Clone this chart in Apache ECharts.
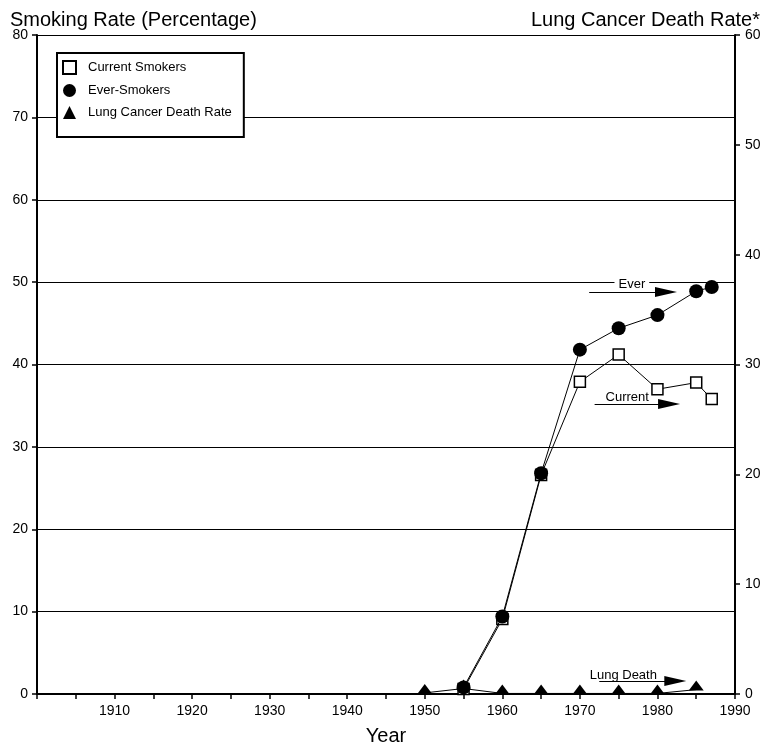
<!DOCTYPE html>
<html>
<head>
<meta charset="utf-8">
<script src="https://cdn.jsdelivr.net/npm/echarts@6/dist/echarts.min.js"></script>
<style>
  html, body { margin: 0; padding: 0; background: #fff; }
  #chart { width: 766px; height: 746px; }
</style>
</head>
<body>
<div id="chart"></div>
<script>
// Smoking prevalence (left axis, %) and lung cancer death rate (right axis)
var seriesNames = ['Current Smokers', 'Ever-Smokers', 'Lung Cancer Death Rate'];

var currentYears = [1955, 1960, 1965, 1970, 1975, 1980, 1985, 1987];
var currentRate  = [0.6, 9.1, 26.6, 37.9, 41.2, 37.0, 37.8, 35.8];

var everYears = [1955, 1960, 1965, 1970, 1975, 1980, 1985, 1987];
var everRate  = [0.8, 9.4, 26.8, 41.8, 44.4, 46.0, 48.9, 49.4];

var lungYears = [1950, 1955, 1960, 1965, 1970, 1975, 1980, 1985];
var lungRate  = [0.1, 0.5, 0.05, 0.05, 0.05, 0.05, 0.05, 0.4];

var yearMin = 1900, yearMax = 1990, yearStep = 10;
var smokeMax = 80, smokeStep = 10;
var deathMax = 60, deathStep = 10;

var FONT = '"Liberation Sans", Arial, Helvetica, sans-serif';

function pairs(xs, ys) {
  return xs.map(function (x, i) { return [x, ys[i]]; });
}

// Arrow annotation: a short line ending in a filled arrowhead
function arrow(x0, x1, y) {
  return [{ coord: [x0, y], symbol: 'none' }, { coord: [x1, y], symbol: 'triangle' }];
}
function note(text, x, y, bg) {
  return {
    coord: [x, y],
    symbol: 'rect',
    symbolSize: 1,
    itemStyle: { color: 'rgba(0,0,0,0)' },
    label: {
      show: true, position: 'inside', formatter: text,
      color: '#000', fontSize: 13, fontFamily: FONT,
      backgroundColor: bg || 'transparent', padding: [1, 4]
    }
  };
}
var arrowStyle = {
  silent: true, animation: false,
  symbolSize: [10, 22],
  lineStyle: { color: '#000', width: 1, type: 'solid' },
  label: { show: false }
};

var chart = echarts.init(document.getElementById('chart'), null, { renderer: 'canvas' });

chart.setOption({
  animation: false,
  backgroundColor: '#fff',
  textStyle: { fontFamily: FONT, color: '#000' },
  title: [
    { text: 'Smoking Rate (Percentage)', left: 10, top: 10, padding: 0,
      textStyle: { fontSize: 20, fontWeight: 'normal', color: '#000', fontFamily: FONT } },
    { text: 'Lung Cancer Death Rate*', right: 6, top: 10, padding: 0,
      textStyle: { fontSize: 20, fontWeight: 'normal', color: '#000', fontFamily: FONT } }
  ],
  legend: {
    orient: 'vertical',
    left: 57, top: 53,
    padding: [7, 12, 18, 5],
    itemWidth: 13, itemHeight: 13,
    itemGap: 9,
    borderColor: '#000', borderWidth: 2,
    backgroundColor: '#fff',
    textStyle: { fontSize: 13, color: '#000', fontFamily: FONT, padding: [0, 0, 0, 7] },
    data: [
      { name: seriesNames[0], icon: 'rect' },
      { name: seriesNames[1], icon: 'circle' },
      { name: seriesNames[2], icon: 'triangle' }
    ],
    selectedMode: false
  },
  grid: { left: 37, right: 31, top: 35, bottom: 52, containLabel: false, outerBoundsMode: 'none' },
  xAxis: {
    type: 'value',
    min: yearMin, max: yearMax, interval: yearStep,
    name: 'Year', nameLocation: 'middle', nameGap: 32,
    nameTextStyle: { fontSize: 20, color: '#000', fontFamily: FONT },
    axisLine: { show: true, onZero: false, lineStyle: { color: '#000', width: 2 } },
    axisTick: { show: true, length: 5, lineStyle: { color: '#000', width: 1.5 } },
    minorTick: { show: true, splitNumber: 2, length: 5, lineStyle: { color: '#000', width: 1.5 } },
    axisLabel: {
      margin: 10, fontSize: 14, color: '#000', fontFamily: FONT,
      formatter: function (v) { return v === yearMin ? '' : String(v); }
    },
    splitLine: { show: false }
  },
  yAxis: [
    {
      type: 'value', position: 'left',
      min: 0, max: smokeMax, interval: smokeStep,
      axisLine: { show: true, lineStyle: { color: '#000', width: 2 } },
      axisTick: { show: true, length: 5, lineStyle: { color: '#000', width: 1.5 } },
      axisLabel: { margin: 9, fontSize: 14, color: '#000', fontFamily: FONT },
      splitLine: { show: true, lineStyle: { color: '#000', width: 1.2 } }
    },
    {
      type: 'value', position: 'right',
      min: 0, max: deathMax, interval: deathStep,
      axisLine: { show: true, lineStyle: { color: '#000', width: 2 } },
      axisTick: { show: true, length: 5, lineStyle: { color: '#000', width: 1.5 } },
      axisLabel: { margin: 10, fontSize: 14, color: '#000', fontFamily: FONT },
      splitLine: { show: false }
    }
  ],
  series: [
    {
      name: seriesNames[2], type: 'line', yAxisIndex: 1,
      data: pairs(lungYears, lungRate),
      symbol: 'triangle', symbolSize: [15, 10], symbolOffset: [0, -4],
      itemStyle: { color: '#000' },
      lineStyle: { color: '#000', width: 1 },
      z: 3,
      markLine: Object.assign({ data: [arrow(1972.5, 1982.3, 1.18)] }, arrowStyle),
      markPoint: { silent: true, animation: false, data: [note('Lung Death', 1975.6, 1.7)] }
    },
    {
      name: seriesNames[0], type: 'line', yAxisIndex: 0,
      data: pairs(currentYears, currentRate),
      symbol: 'rect', symbolSize: 11,
      itemStyle: { color: '#fff', borderColor: '#000', borderWidth: 1.5 },
      lineStyle: { color: '#000', width: 1 },
      z: 4,
      markLine: Object.assign({ data: [arrow(1971.9, 1981.5, 35.2)] }, arrowStyle),
      markPoint: { silent: true, animation: false, data: [note('Current', 1976.1, 36.0)] }
    },
    {
      name: seriesNames[1], type: 'line', yAxisIndex: 0,
      data: pairs(everYears, everRate),
      symbol: 'circle', symbolSize: 14,
      itemStyle: { color: '#000' },
      lineStyle: { color: '#000', width: 1 },
      z: 5,
      markLine: Object.assign({ data: [arrow(1971.2, 1981.1, 48.8)] }, arrowStyle),
      markPoint: { silent: true, animation: false, data: [note('Ever', 1976.7, 49.7, '#fff')] }
    }
  ]
});
</script>
</body>
</html>
